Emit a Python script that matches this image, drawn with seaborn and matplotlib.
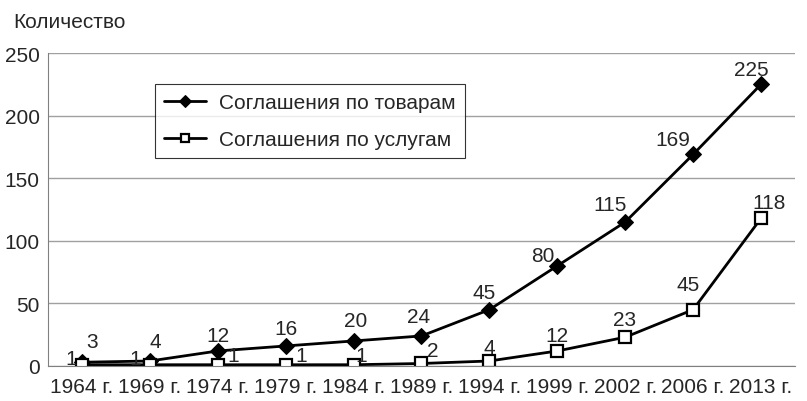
import numpy as np
import pandas as pd
import seaborn as sns
import matplotlib.pyplot as plt

years = ["1964 г.", "1969 г.", "1974 г.", "1979 г.", "1984 г.", "1989 г.",
         "1994 г.", "1999 г.", "2002 г.", "2006 г.", "2013 г."]
goods = [3, 4, 12, 16, 20, 24, 45, 80, 115, 169, 225]
services = [1, 1, 1, 1, 1, 2, 4, 12, 23, 45, 118]

# label offsets in pixels (dx, dy) from the point to the label centre
goods_off = [(10, 21), (5, 19), (0, 15), (0, 17), (2, 20), (-3, 19),
             (-5, 17), (-15, 10), (-15, 18), (-20, 15), (-10, 15)]
serv_off = [(-11, 6), (-15, 6), (15, 9), (16, 9), (8, 9), (11, 13),
            (0, 13), (0, 15), (-1, 18), (-5, 25), (8, 16)]

sns.set_style("white")
plt.rcParams['font.family'] = ['Liberation Sans', 'DejaVu Sans']
FS = 15

df = pd.DataFrame({"x": np.arange(len(years)), "goods": goods, "services": services})

fig = plt.figure(figsize=(8.07, 4.02), dpi=100)
ax = fig.add_axes([48 / 807, 1 - 367 / 402, 747 / 807, 313 / 402])

sns.lineplot(data=df, x="x", y="goods", ax=ax, color="black", linewidth=2,
             marker="D", markersize=8, markeredgecolor="black",
             label="Соглашения по товарам")
sns.lineplot(data=df, x="x", y="services", ax=ax, color="black", linewidth=2,
             marker="s", markersize=8, markerfacecolor="white",
             markeredgecolor="black", markeredgewidth=1.6,
             label="Соглашения по услугам")

for i, v in enumerate(goods):
    ax.annotate(str(v), (i, v), xytext=goods_off[i], textcoords="offset pixels",
                ha="center", va="center", fontsize=FS)
for i, v in enumerate(services):
    ax.annotate(str(v), (i, v), xytext=serv_off[i], textcoords="offset pixels",
                ha="center", va="center", fontsize=FS)

ax.set_xlim(-0.5, len(years) - 0.5)
ax.set_ylim(0, 250)
ax.set_yticks(range(0, 251, 50))
ax.set_xticks(np.arange(len(years)))
ax.set_xticklabels(years)
ax.set_xticks(np.arange(len(years) + 1) - 0.5, minor=True)
ax.tick_params(axis="x", which="major", length=0, labelsize=FS, pad=8)
ax.tick_params(axis="x", which="minor", length=5, color="#808080", direction="out")
ax.tick_params(axis="y", length=5, color="#808080", labelsize=FS, direction="out", pad=1)
ax.grid(axis="y", color="#a0a0a0", linewidth=1)
ax.set_axisbelow(True)
for s in ["top", "right"]:
    ax.spines[s].set_visible(False)
for s in ["left", "bottom"]:
    ax.spines[s].set_color("#808080")
ax.set_xlabel("")
ax.set_ylabel("")

leg = ax.legend(loc="upper left", bbox_to_anchor=(107 / 747, (367 - 85) / 313),
                borderaxespad=0, fontsize=FS, frameon=True, fancybox=False,
                edgecolor="black", handlelength=2.0, handletextpad=0.6,
                borderpad=0.45, labelspacing=0.85)
leg.get_frame().set_linewidth(0.8)
for h in leg.legend_handles:
    h.set_markersize(6)

fig.text(13 / 807, 1 - 22 / 402, "Количество", fontsize=FS, va="center", ha="left")

fig.savefig("out.png", dpi=100)
